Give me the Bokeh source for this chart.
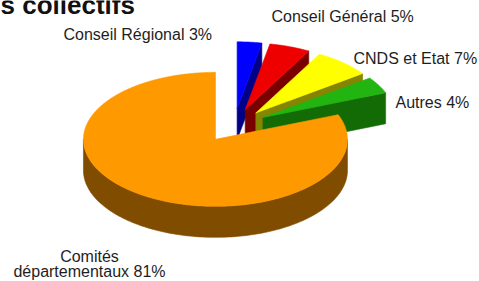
import numpy as np
from bokeh.plotting import figure
from bokeh.models import Range1d, ColumnDataSource
from bokeh.embed import file_html
from bokeh.resources import INLINE
from bokeh.core.properties import value

# ---- data ----
categories = ["Conseil Régional", "Conseil Général", "CNDS et Etat", "Autres", "Comités départementaux"]
shares = [3, 5, 7, 4, 81]
top_colors = ["#0000FF", "#EE0000", "#FFFF00", "#22B411", "#FF9900"]
side_colors = ["#000088", "#7A0000", "#858500", "#136B06", "#7F4C00"]
title_text = "s collectifs"

# ---- layout (picture pixel units) ----
W, H = 479, 281
p = figure(width=W, height=H, output_backend="svg", toolbar_location=None,
           x_range=Range1d(0, W), y_range=Range1d(H, 0),
           x_axis_type=None, y_axis_type=None, min_border=0)
p.grid.visible = False
p.outline_line_color = None
p.background_fill_color = "white"
p.border_fill_color = "white"

cx0, cy0 = 233.5, 125.0
rx, ry = 132.0, 67.0
depth = 31.0
explode = 0.25

total = float(sum(shares))
bounds = np.concatenate([[0.0], np.cumsum(shares)]) / total * 2 * np.pi


def rim(ox, oy, t, dz=0.0):
    return ox + rx * np.sin(t), oy - ry * np.cos(t) + dz


slices = []
for i, s in enumerate(shares):
    a0, a1 = bounds[i], bounds[i + 1]
    m = 0.5 * (a0 + a1)
    ox = cx0 + explode * rx * np.sin(m)
    oy = cy0 - explode * ry * np.cos(m)
    slices.append((i, a0, a1, m, ox, oy))

# back-to-front order: farthest from the front (angle pi) first
slices.sort(key=lambda r: -abs(r[3] - np.pi))

xs, ys, fills = [], [], []
for i, a0, a1, m, ox, oy in slices:
    if np.sin(a1) > 1e-6:
        ex, ey = rim(ox, oy, a1)
        xs.append([ox, ex, ex, ox]); ys.append([oy, ey, ey + depth, oy + depth]); fills.append(side_colors[i])
    if np.sin(a0) < -1e-6:
        ex, ey = rim(ox, oy, a0)
        xs.append([ox, ex, ex, ox]); ys.append([oy, ey, ey + depth, oy + depth]); fills.append(side_colors[i])
    lo, hi = max(a0, np.pi / 2), min(a1, 3 * np.pi / 2)
    if hi > lo:
        t = np.linspace(lo, hi, 120)
        tx, ty = rim(ox, oy, t)
        bx, by = rim(ox, oy, t[::-1], depth)
        xs.append(list(tx) + list(bx)); ys.append(list(ty) + list(by)); fills.append(side_colors[i])
    t = np.linspace(a0, a1, max(8, int(200 * (a1 - a0))))
    tx, ty = rim(ox, oy, t)
    xs.append([ox] + list(tx)); ys.append([oy] + list(ty)); fills.append(top_colors[i])

src = ColumnDataSource(dict(xs=xs, ys=ys, fill=fills))
p.patches("xs", "ys", source=src, fill_color="fill", line_color="fill", line_width=0.6)

# ---- labels ----
font = value("Liberation Sans")
lab_x = [63, 271, 353, 395]
lab_y = [33.5, 16, 57.5, 101.5]
lab_txt = [f"{c} {s}%" for c, s in zip(categories[:4], shares[:4])]
p.text(x=lab_x, y=lab_y, text=lab_txt, text_font=font, text_font_size="16px",
       text_color="#1E1E1E", text_align="left", text_baseline="alphabetic")

first, rest = categories[4].split(" ", 1)
p.text(x=[89, 89], y=[256, 270.5], text=[first, f"{rest} {shares[4]}%"], text_font=font,
       text_font_size="16px", text_color="#1E1E1E", text_align="center", text_baseline="alphabetic")

p.text(x=[0], y=[4], text=[title_text], text_font=font, text_font_size="26px",
       text_font_style="bold", text_color="#111111", text_align="left", text_baseline="alphabetic")

open("out.html", "w").write(file_html(p, INLINE))
